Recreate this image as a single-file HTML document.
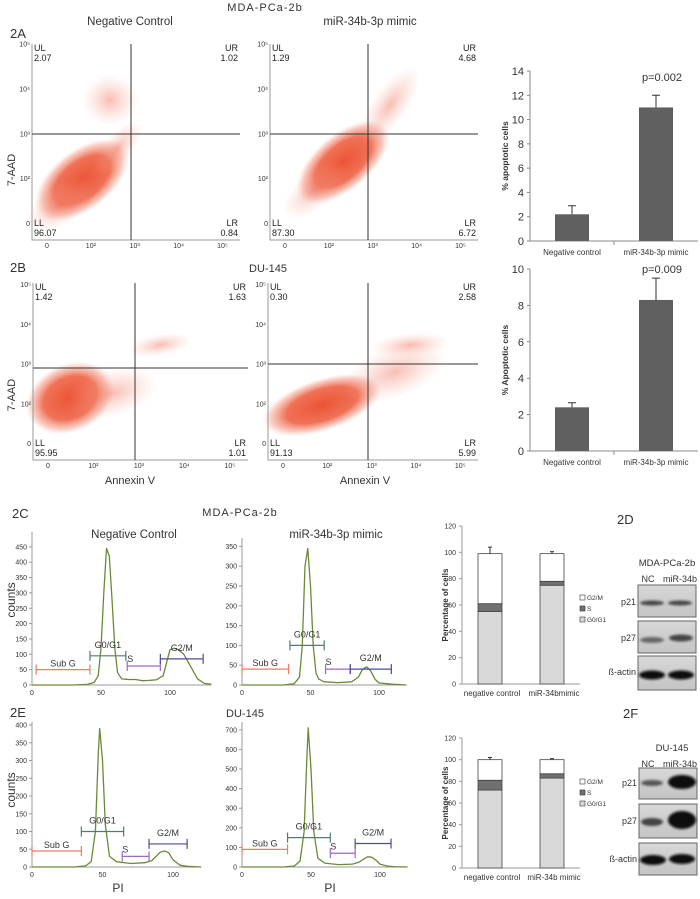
<!DOCTYPE html>
<html><head><meta charset="utf-8"><style>
html,body{margin:0;padding:0;background:#fff}
svg{display:block;font-family:"Liberation Sans",sans-serif}
.t{fill:#333}
.ax{stroke:#999;stroke-width:1;fill:none}
.q{stroke:#333;stroke-width:1}
.sm{font-size:7px;fill:#333}
.ql{font-size:9px;fill:#222}
</style></head><body>
<svg id="fig" width="700" height="899" viewBox="0 0 700 899" xmlns="http://www.w3.org/2000/svg">
<defs>
<radialGradient id="cl" cx="50%" cy="50%" r="50%">
<stop offset="0" stop-color="#ec5434" stop-opacity="1"/>
<stop offset="0.6" stop-color="#ee6244" stop-opacity="0.9"/>
<stop offset="0.85" stop-color="#f28a74" stop-opacity="0.45"/>
<stop offset="1" stop-color="#f6b0a0" stop-opacity="0"/>
</radialGradient>
<radialGradient id="cl2" cx="50%" cy="50%" r="50%">
<stop offset="0" stop-color="#f07a66" stop-opacity="0.5"/>
<stop offset="1" stop-color="#f8b0a0" stop-opacity="0"/>
</radialGradient>
<linearGradient id="blot" x1="0" y1="0" x2="0" y2="1">
<stop offset="0" stop-color="#d8d8d8"/><stop offset="1" stop-color="#c4c4c4"/>
</linearGradient>
<filter id="blur1" x="-30%" y="-100%" width="160%" height="300%"><feGaussianBlur stdDeviation="1.3"/></filter>
</defs>

<text x="265" y="11" text-anchor="middle" font-size="11" class="t" letter-spacing="1">MDA-PCa-2b</text>
<text x="130" y="25" text-anchor="middle" font-size="11.5" class="t">Negative Control</text>
<text x="370" y="25" text-anchor="middle" font-size="11.5" class="t">miR-34b-3p mimic</text>
<text x="10" y="38" font-size="13" class="t">2A</text>
<text x="10" y="272" font-size="13" class="t">2B</text>
<text x="268" y="272" text-anchor="middle" font-size="11" class="t">DU-145</text>
<text x="15" y="170" transform="rotate(-90 15 170)" text-anchor="middle" font-size="11" class="t">7-AAD</text>
<text x="15" y="395" transform="rotate(-90 15 395)" text-anchor="middle" font-size="11" class="t">7-AAD</text>
<text x="130" y="484" text-anchor="middle" font-size="11" class="t">Annexin V</text>
<text x="365" y="484" text-anchor="middle" font-size="11" class="t">Annexin V</text>

<g id="scatters"></g>

<text x="12" y="518" font-size="13" class="t">2C</text>
<text x="240" y="516" text-anchor="middle" font-size="11" class="t" letter-spacing="1">MDA-PCa-2b</text>
<text x="134" y="538" text-anchor="middle" font-size="11.5" class="t">Negative Control</text>
<text x="336" y="538" text-anchor="middle" font-size="11.5" class="t">miR-34b-3p mimic</text>
<text x="10" y="717" font-size="13" class="t">2E</text>
<text x="245" y="717" text-anchor="middle" font-size="11" class="t">DU-145</text>
<text x="15" y="600" transform="rotate(-90 15 600)" text-anchor="middle" font-size="12" class="t">counts</text>
<text x="15" y="790" transform="rotate(-90 15 790)" text-anchor="middle" font-size="12" class="t">counts</text>
<text x="118" y="892" text-anchor="middle" font-size="12" class="t">PI</text>
<text x="330" y="892" text-anchor="middle" font-size="12" class="t">PI</text>

<g id="hists"></g>
<g id="bars"></g>
<g id="stacks"></g>

<g>
<text x="617" y="524" font-size="13" class="t">2D</text>
<text x="667" y="566" text-anchor="middle" font-size="9.5" class="t">MDA-PCa-2b</text>
<text x="648" y="582" text-anchor="middle" font-size="9" class="t">NC</text>
<text x="680" y="582" text-anchor="middle" font-size="9" class="t">miR-34b</text>
<text x="636" y="605" text-anchor="end" font-size="9" class="t">p21</text>
<text x="636" y="641" text-anchor="end" font-size="9" class="t">p27</text>
<text x="636" y="675" text-anchor="end" font-size="9" class="t">ß-actin</text>
<rect x="638" y="585" width="58" height="32" fill="url(#blot)" stroke="#666"/>
<rect x="638" y="621" width="58" height="32" fill="url(#blot)" stroke="#666"/>
<rect x="638" y="656" width="58" height="34" fill="url(#blot)" stroke="#666"/>
<g filter="url(#blur1)">
<ellipse cx="652" cy="603" rx="12" ry="2.5" fill="#444"/><ellipse cx="680" cy="603" rx="12" ry="2.5" fill="#444"/>
<ellipse cx="652" cy="640" rx="12" ry="3" fill="#666"/><ellipse cx="681" cy="638" rx="12" ry="3.5" fill="#444"/>
<ellipse cx="652" cy="675" rx="13" ry="4.5" fill="#111"/><ellipse cx="681" cy="675" rx="13" ry="4.5" fill="#111"/>
</g>
</g>
<g>
<text x="623" y="718" font-size="13" class="t">2F</text>
<text x="672" y="751" text-anchor="middle" font-size="9.5" class="t">DU-145</text>
<text x="648" y="767" text-anchor="middle" font-size="9" class="t">NC</text>
<text x="680" y="767" text-anchor="middle" font-size="9" class="t">miR-34b</text>
<text x="637" y="786" text-anchor="end" font-size="9" class="t">p21</text>
<text x="637" y="824" text-anchor="end" font-size="9" class="t">p27</text>
<text x="637" y="862" text-anchor="end" font-size="9" class="t">ß-actin</text>
<rect x="639" y="768" width="58" height="31" fill="url(#blot)" stroke="#666"/>
<rect x="639" y="804" width="58" height="34" fill="url(#blot)" stroke="#666"/>
<rect x="639" y="843" width="58" height="32" fill="url(#blot)" stroke="#666"/>
<g filter="url(#blur1)">
<ellipse cx="652" cy="783" rx="11" ry="3" fill="#555"/><ellipse cx="682" cy="782" rx="14" ry="7" fill="#0a0a0a"/>
<ellipse cx="652" cy="822" rx="11" ry="4" fill="#444"/><ellipse cx="682" cy="820" rx="14" ry="9" fill="#0a0a0a"/>
<ellipse cx="653" cy="860" rx="13" ry="5" fill="#111"/><ellipse cx="682" cy="859" rx="13" ry="5" fill="#111"/>
</g>
</g>
</svg>
<script>
const NS='http://www.w3.org/2000/svg';
function mk(parent,tag,attrs,text){const e=document.createElementNS(NS,tag);for(const k in attrs)e.setAttribute(k,attrs[k]);if(text!==undefined)e.textContent=text;parent.appendChild(e);return e;}

const quadLabels=['UL','UR','LL','LR'];
const quadA_NC=['2.07','1.02','96.07','0.84'];
const quadA_MIM=['1.29','4.68','87.30','6.72'];
const quadB_NC=['1.42','1.63','95.95','1.01'];
const quadB_MIM=['0.30','2.58','91.13','5.99'];
const scatterTicks=['0','10²','10³','10⁴','10⁵'];

const scatterCfg=[
 {name:'scatter-2a-negative-control',q:quadA_NC,x0:32,x1:240,y0:44,y1:240,vx:131,hy:134,clouds:[[82,180,55,30,-38,'cl'],[118,148,34,14,-50,'cl2'],[110,100,28,26,0,'cl2'],[60,205,40,20,-35,'cl2']]},
 {name:'scatter-2a-mimic',q:quadA_MIM,x0:270,x1:478,y0:44,y1:240,vx:368,hy:134,clouds:[[343,162,56,28,-40,'cl'],[390,105,46,18,-55,'cl2'],[315,190,40,18,-40,'cl2']]},
 {name:'scatter-2b-negative-control',q:quadB_NC,x0:33,x1:248,y0:283,y1:460,vx:135,hy:368,clouds:[[70,398,46,34,-25,'cl'],[112,393,48,24,-15,'cl2'],[160,345,32,11,-10,'cl2']]},
 {name:'scatter-2b-mimic',q:quadB_MIM,x0:268,x1:478,y0:283,y1:460,vx:368,hy:364,clouds:[[322,405,62,26,-18,'cl'],[395,372,55,26,-20,'cl2'],[410,345,40,12,-5,'cl2']]}
];
const sg=document.getElementById('scatters');
scatterCfg.forEach(c=>{
 const g=mk(sg,'g',{});
 
 
 c.clouds.forEach(cl=>{const e=mk(g,'ellipse',{cx:cl[0],cy:cl[1],rx:cl[2],ry:cl[3],fill:'url(#'+cl[5]+')',transform:`rotate(${cl[4]} ${cl[0]} ${cl[1]})`});
  
  });
 mk(g,'path',{d:`M${c.x0} ${c.y0}V${c.y1}H${c.x1}`,class:'ax'});
 for(let i=0;i<5;i++){const x=c.x0+15+i*(c.x1-c.x0-15)/4.4;
  const t=mk(g,'text',{x:x,y:c.y1+8,class:'sm','text-anchor':'middle'},scatterTicks[i]);
  
  }
 for(let i=0;i<5;i++){const y=c.y1-16-i*(c.y1-c.y0-30)/3.7;
  const t=mk(g,'text',{x:c.x0-2,y:y+2,class:'sm','text-anchor':'end'},scatterTicks[i]);
  
  }
 mk(g,'line',{x1:c.vx,y1:c.y0,x2:c.vx,y2:c.y1,class:'q'});
 mk(g,'line',{x1:c.x0,y1:c.hy,x2:c.x1,y2:c.hy,class:'q'});
 const pos=[[c.x0+2,c.y0+7,'start'],[c.x1-2,c.y0+7,'end'],[c.x0+2,c.y1-14,'start'],[c.x1-2,c.y1-14,'end']];
 pos.forEach((p,i)=>{
  const a=mk(g,'text',{x:p[0],y:p[1],class:'ql','text-anchor':p[2]},quadLabels[i]);
  
  
  const b=mk(g,'text',{x:p[0],y:p[1]+10,class:'ql','text-anchor':p[2]},c.q[i]);
  
  
 });
});

const barCats=['Negative control','miR-34b-3p mimic'];
const apopA=[2.2,11.0];
const apopAerr=[0.7,1.0];
const apopB=[2.4,8.3];
const apopBerr=[0.25,1.2];
const apopAticks=[0,2,4,6,8,10,12,14];
const apopBticks=[0,2,4,6,8,10];
const pvals=['p=0.002','p=0.009'];
const bg=document.getElementById('bars');
function barChart(name,vals,errs,ticks,ymax,y0,y1,ytitle,p,py){
 const g=mk(bg,'g',{});
 
 
 const ax=530,xr=698;
 const Y=v=>y0-(v/ymax)*(y0-y1);
 const X=i=>ax+(xr-ax)*(i+0.5)/vals.length;
 mk(g,'path',{d:`M${ax} ${y1}V${y0}H${xr}`,stroke:'#888',fill:'none'});
 mk(g,'line',{x1:(ax+xr)/2,y1:y0,x2:(ax+xr)/2,y2:y0+4,stroke:'#888'});
 ticks.forEach(t=>{mk(g,'line',{x1:ax-3,y1:Y(t),x2:ax,y2:Y(t),stroke:'#888'});
  const l=mk(g,'text',{x:ax-6,y:Y(t)+4,'font-size':11,'text-anchor':'end',class:'t'},t);
  
  });
 vals.forEach((v,i)=>{
  const r=mk(g,'rect',{x:X(i)-17,y:Y(v),width:34,height:y0-Y(v),fill:'#606060'});
  
  
  const e=errs[i];
  mk(g,'path',{d:`M${X(i)} ${Y(v)}V${Y(v+e)}M${X(i)-4} ${Y(v+e)}H${X(i)+4}`,stroke:'#333',fill:'none'});
  const l=mk(g,'text',{x:X(i),y:y0+14,'font-size':8,'text-anchor':'middle',class:'t'},barCats[i]);
  
  
 });
 const pt=mk(g,'text',{x:X(1)+6,y:py,'font-size':11,'text-anchor':'middle',class:'t'},p);
 
 
 const yt=mk(g,'text',{x:508,y:(y0+y1)/2,'font-size':8.5,'font-weight':'bold','text-anchor':'middle',class:'t',transform:`rotate(-90 508 ${(y0+y1)/2})`},ytitle);
 
 
}
barChart('apoptosis-bar-chart-2a',apopA,apopAerr,apopAticks,14,241,71,'% apoptotic cells',pvals[0],81);
barChart('apoptosis-bar-chart-2b',apopB,apopBerr,apopBticks,10,451,269,'% Apoptotic  cells',pvals[1],273);

const h1x=[0,30,40,45,48,50,52,54,56,58,60,62,65,70,75,80,85,90,95,98,100,103,106,110,115,120,125,130];
const h1y=[0,0,2,8,30,120,300,445,420,280,120,40,20,18,18,14,15,17,30,80,115,120,115,100,60,20,5,3];
const h2x=[0,30,38,42,44,46,48,50,52,54,56,60,70,80,85,88,91,94,97,100,110,120];
const h2y=[0,0,3,20,100,300,345,250,100,30,15,8,6,8,20,40,46,35,15,5,2,0];
const h3x=[0,30,38,42,45,47,48,50,52,55,60,70,80,85,88,91,94,97,100,105,110,120];
const h3y=[0,0,3,15,100,320,390,300,120,30,15,10,12,18,30,42,45,40,20,5,2,0];
const h4x=[0,30,38,42,45,47,48,50,52,55,60,70,80,85,88,91,94,97,100,105,110,120];
const h4y=[0,0,5,30,180,560,710,500,180,45,20,12,15,25,40,52,50,35,15,5,2,0];
const h1ticks=[0,50,100,150,200,250,300,350,400,450];
const h2ticks=[0,50,100,150,200,250,300,350];
const h3ticks=[0,50,100,150,200,250,300,350,400];
const h4ticks=[0,100,200,300,400,500,600,700];
const pxTicks=[0,50,100];
const gateNames=['Sub G','G0/G1','S','G2/M'];
const gateColors=['#f07a66','#557a70','#9a6ac8','#4a4a9a'];
const gates1=[[3,42,50],[42,68,95],[69,93,62],[93,124,85]];
const gates2=[[0,34,40],[35,60,100],[61,79,40],[79,109,40]];
const gates3=[[0,35,45],[35,65,100],[64,83,30],[83,110,65]];
const gates4=[[0,33,90],[33,64,150],[64,82,70],[82,108,120]];
const hg=document.getElementById('hists');
function hist(name,xs,ys,ticks,gates,ox,ux,oy,uy,xmax,top){
 const g=mk(hg,'g',{});
 
 
 const X=v=>ox+v*ux, Y=v=>oy-v*uy;
 mk(g,'path',{d:`M${ox} ${top}V${oy}H${X(xmax)}`,stroke:'#999',fill:'none'});
 ticks.forEach(t=>{mk(g,'line',{x1:ox-3,y1:Y(t),x2:ox,y2:Y(t),stroke:'#999'});
  const l=mk(g,'text',{x:ox-5,y:Y(t)+2.5,'font-size':7,'text-anchor':'end',class:'t'},t);
  
  });
 pxTicks.forEach(t=>{const l=mk(g,'text',{x:X(t),y:oy+10,'font-size':7,'text-anchor':'middle',class:'t'},t);
  
  });
 const d=xs.map((x,i)=>(i?'L':'M')+X(x).toFixed(1)+' '+Y(ys[i]).toFixed(1)).join('');
 const p=mk(g,'path',{d:d,stroke:'#6a8a3a',fill:'none','stroke-width':1.3,'stroke-linejoin':'round'});
 
 
 gates.forEach((gt,i)=>{
  const y=Y(gt[2]);
  const gp=mk(g,'path',{d:`M${X(gt[0])} ${y}H${X(gt[1])}M${X(gt[0])} ${y-5}V${y+5}M${X(gt[1])} ${y-5}V${y+5}`,stroke:gateColors[i],fill:'none','stroke-width':1.2});
  
  
  let lx,ly,anc='middle';
  if(i===0){lx=(X(gt[0])+X(gt[1]))/2;ly=y-3;}
  else if(i===2){lx=X(gt[0])+3;ly=y-4;}
  else {lx=(X(gt[0])+X(gt[1]))/2;ly=y-8;}
  const l=mk(g,'text',{x:lx,y:ly,'font-size':9,'text-anchor':anc,class:'t'},gateNames[i]);
  
  
 });
}
hist('histogram-2c-negative-control',h1x,h1y,h1ticks,gates1,32,1.38,685,0.307,130,532);
hist('histogram-2c-mimic',h2x,h2y,h2ticks,gates2,242,1.37,685,0.396,120,538);
hist('histogram-2e-negative-control',h3x,h3y,h3ticks,gates3,32,1.41,867,0.355,120,722);
hist('histogram-2e-mimic',h4x,h4y,h4ticks,gates4,242,1.38,867,0.196,120,722);

const stackCatsC=['negative control','miR-34bmimic'];
const stackCatsE=['negative control','miR-34b mimic'];
const g0g1C=[55,75];
const sC=[6,3];
const g2mC=[38,21];
const errC=[5,1.5];
const g0g1E=[72,83];
const sE=[9,4];
const g2mE=[19,13];
const errE=[2,1];
const stackTicks=[0,20,40,60,80,100,120];
const legendNames=['G2/M','S','G0/G1'];
const stg=document.getElementById('stacks');
function stack(name,cats,a,b,c,err,y0,y1){
 const g=mk(stg,'g',{});
 
 
 const ax=462,xr=580;
 const Y=v=>y0-v/120*(y0-y1);
 const X=i=>490+i*62;
 mk(g,'path',{d:`M${ax} ${y1}V${y0}H${xr}`,stroke:'#999',fill:'none'});
 stackTicks.forEach(t=>{mk(g,'line',{x1:ax-3,y1:Y(t),x2:ax,y2:Y(t),stroke:'#999'});
  const l=mk(g,'text',{x:ax-6,y:Y(t)+2.5,'font-size':7,'text-anchor':'end',class:'t'},t);
  
  });
 cats.forEach((cat,i)=>{
  const segs=[[0,a[i],'#d9d9d9'],[a[i],a[i]+b[i],'#707070'],[a[i]+b[i],a[i]+b[i]+c[i],'#ffffff']];
  segs.forEach((s,k)=>{const r=mk(g,'rect',{x:X(i)-12,y:Y(s[1]),width:24,height:Y(s[0])-Y(s[1]),fill:s[2],stroke:'#444','stroke-width':0.8});
   
   });
  const tot=a[i]+b[i]+c[i];
  mk(g,'path',{d:`M${X(i)} ${Y(tot)}V${Y(tot+err[i])}M${X(i)-2} ${Y(tot+err[i])}H${X(i)+2}`,stroke:'#333',fill:'none'});
  const l=mk(g,'text',{x:X(i)+2,y:y0+12,'font-size':8,'text-anchor':'middle',class:'t'},cat);
  
  
 });
 const yt=mk(g,'text',{x:448,y:(y0+y1)/2,'font-size':8,'font-weight':'bold','text-anchor':'middle',class:'t',transform:`rotate(-90 448 ${(y0+y1)/2})`},'Percentage of cells');
 
 
 const fills=['#ffffff','#707070','#d9d9d9'];
 legendNames.forEach((n,k)=>{
  const ly=y0-84+k*11;
  mk(g,'rect',{x:580,y:ly-5,width:5,height:5,fill:fills[k],stroke:'#333','stroke-width':0.6});
  const l=mk(g,'text',{x:587,y:ly,'font-size':6.5,class:'t'},n);
  
  
 });
}
stack('stacked-bar-2c',stackCatsC,g0g1C,sC,g2mC,errC,684,526);
stack('stacked-bar-2e',stackCatsE,g0g1E,sE,g2mE,errE,868,738);
</script>
</body></html>
